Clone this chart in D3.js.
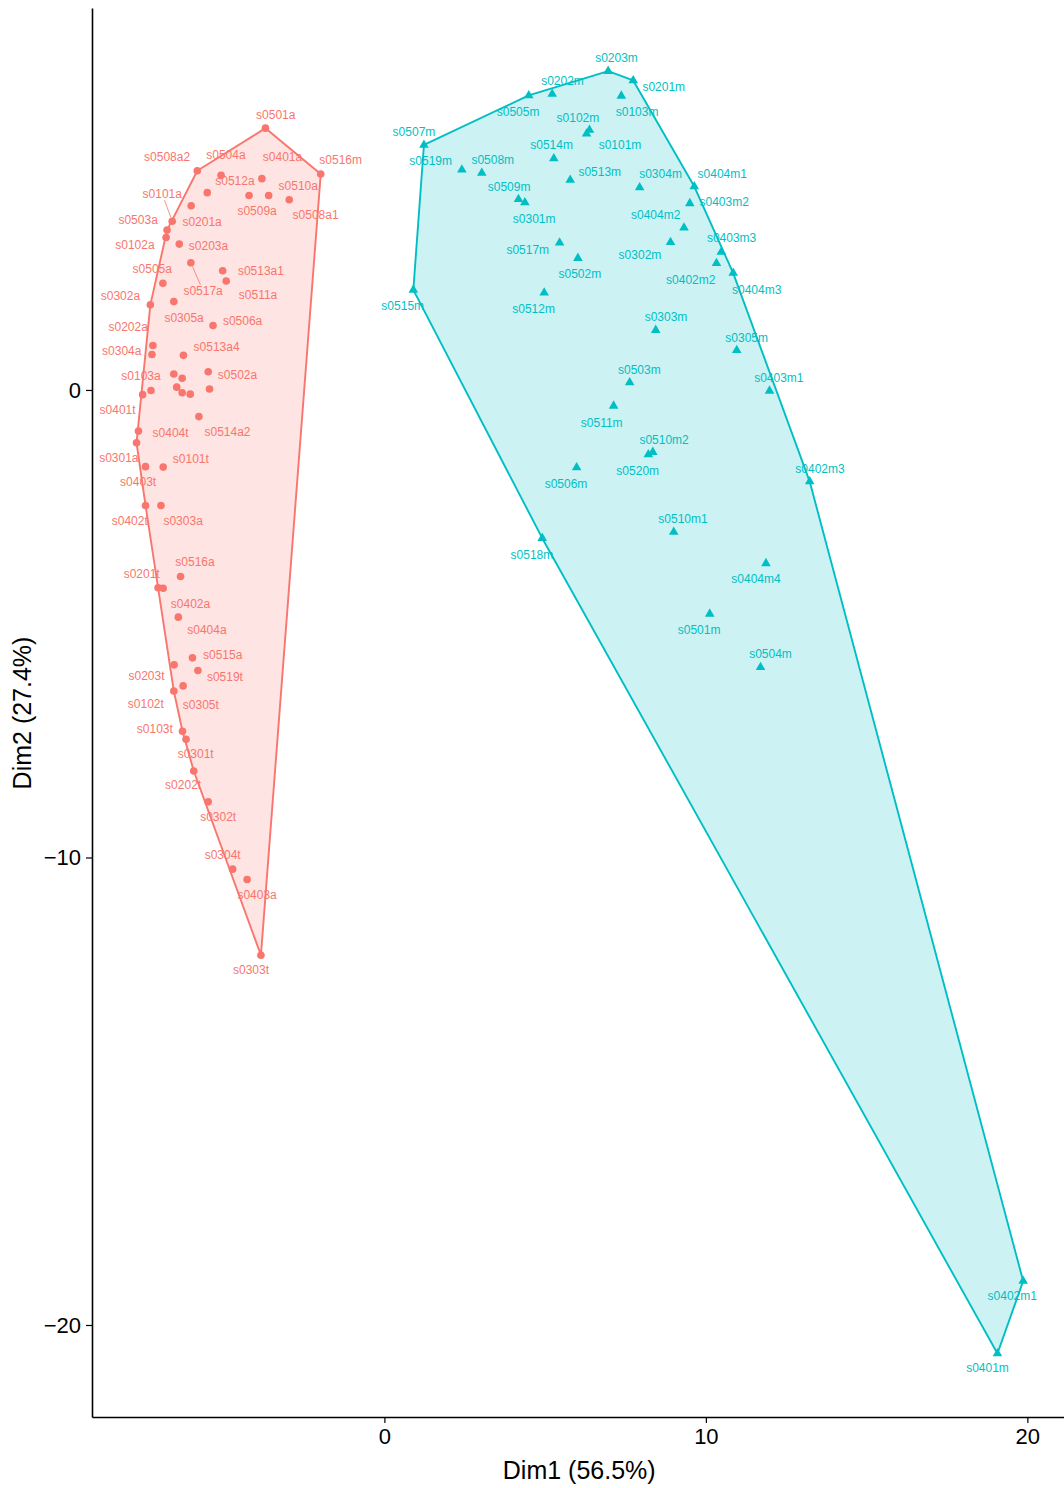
<!DOCTYPE html>
<html>
<head>
<meta charset="utf-8">
<script src="https://cdn.jsdelivr.net/npm/d3@7"></script>
<style>
  html, body { margin: 0; padding: 0; background: #ffffff; }
  svg { display: block; font-family: "Liberation Sans", Helvetica, Arial, sans-serif; }
</style>
</head>
<body>
<svg id="chart" width="1064" height="1488"></svg>
<script>
// ---------------- DATA ----------------
// Each row: [sample name (null = label dropped by repel), Dim1, Dim2, label Dim1, label Dim2]
const clusterNames = ["a", "m"];
const clusterColors = ["#F8766D", "#00BFC4"];

const cluster1 = [
  ["s0501a", -3.70, 5.60, -3.38, 5.89],
  ["s0508a2", -5.82, 4.69, -6.76, 4.99],
  ["s0516m", -1.98, 4.62, -1.36, 4.91],
  ["s0504a", -5.08, 4.59, -4.93, 5.03],
  ["s0401a", -3.81, 4.52, -3.17, 4.98],
  ["s0512a", -5.51, 4.22, -4.65, 4.47],
  ["s0509a", -4.21, 4.16, -3.96, 3.83],
  ["s0510a", -3.60, 4.16, -2.68, 4.36],
  ["s0508a1", -2.96, 4.07, -2.14, 3.74],
  ["s0101a", -6.60, 3.61, -6.91, 4.19],
  ["s0503a", -6.76, 3.42, -7.66, 3.64],
  ["s0102a", -6.79, 3.26, -7.76, 3.10],
  ["s0201a", -6.01, 3.94, -5.67, 3.59],
  ["s0203a", -6.38, 3.12, -5.47, 3.07],
  ["s0517a", -6.02, 2.72, -5.64, 2.12],
  ["s0513a1", -5.03, 2.55, -3.84, 2.55],
  ["s0511a", -4.92, 2.33, -3.93, 2.03],
  ["s0505a", -6.89, 2.28, -7.22, 2.58],
  ["s0305a", -6.55, 1.89, -6.23, 1.54],
  ["s0302a", -7.28, 1.82, -8.21, 2.01],
  ["s0506a", -5.33, 1.38, -4.41, 1.48],
  ["s0202a", -7.20, 0.95, -7.97, 1.35],
  ["s0304a", -7.23, 0.76, -8.17, 0.83],
  ["s0513a4", -6.25, 0.74, -5.22, 0.92],
  [null, -6.55, 0.34, null, null],
  [null, -6.29, 0.25, null, null],
  ["s0502a", -5.48, 0.39, -4.57, 0.32],
  ["s0103a", -7.26, -0.01, -7.57, 0.30],
  ["s0401t", -7.52, -0.10, -8.30, -0.42],
  [null, -6.46, 0.06, null, null],
  [null, -6.29, -0.06, null, null],
  [null, -6.04, -0.09, null, null],
  [null, -5.44, 0.02, null, null],
  ["s0514a2", -5.77, -0.57, -4.88, -0.89],
  ["s0404t", -7.65, -0.88, -6.65, -0.92],
  ["s0301a", -7.71, -1.13, -8.26, -1.46],
  ["s0403t", -7.43, -1.64, -7.66, -1.96],
  ["s0101t", -6.88, -1.65, -6.02, -1.47],
  ["s0402t", -7.43, -2.47, -7.92, -2.81],
  ["s0303a", -6.95, -2.47, -6.26, -2.81],
  ["s0516a", -6.34, -3.99, -5.89, -3.69],
  ["s0201t", -7.04, -4.23, -7.55, -3.94],
  ["s0402a", -6.88, -4.24, -6.03, -4.58],
  ["s0404a", -6.41, -4.86, -5.52, -5.13],
  ["s0515a", -5.97, -5.73, -5.03, -5.66],
  ["s0203t", -6.54, -5.88, -7.40, -6.11],
  ["s0519t", -5.80, -6.00, -4.96, -6.15],
  ["s0305t", -6.26, -6.33, -5.71, -6.73],
  ["s0102t", -6.55, -6.44, -7.42, -6.71],
  ["s0103t", -6.28, -7.30, -7.14, -7.25],
  ["s0301t", -6.17, -7.47, -5.87, -7.79],
  ["s0202t", -5.93, -8.15, -6.26, -8.46],
  ["s0302t", -5.48, -8.81, -5.17, -9.13],
  ["s0304t", -4.72, -10.25, -5.03, -9.94],
  ["s0403a", -4.27, -10.47, -3.96, -10.81],
  ["s0303t", -3.84, -12.09, -4.15, -12.41]
];

const cluster2 = [
  ["s0203m", 6.96, 6.82, 7.22, 7.10],
  ["s0201m", 7.74, 6.62, 8.69, 6.47],
  ["s0505m", 4.49, 6.30, 4.16, 5.95],
  ["s0202m", 5.22, 6.33, 5.54, 6.61],
  ["s0103m", 7.37, 6.29, 7.86, 5.95],
  ["s0102m", 6.38, 5.56, 6.02, 5.82],
  ["s0101m", 6.29, 5.48, 7.33, 5.24],
  ["s0507m", 1.23, 5.24, 0.92, 5.51],
  ["s0514m", 5.27, 4.95, 5.20, 5.24],
  ["s0519m", 2.41, 4.71, 1.44, 4.90],
  ["s0508m", 3.03, 4.64, 3.37, 4.91],
  ["s0513m", 5.78, 4.49, 6.70, 4.66],
  ["s0304m", 7.94, 4.33, 8.59, 4.63],
  ["s0404m1", 9.64, 4.35, 10.51, 4.63],
  ["s0509m", 4.17, 4.08, 3.88, 4.34],
  ["s0301m", 4.37, 4.01, 4.66, 3.66],
  ["s0403m2", 9.50, 3.99, 10.57, 4.01],
  ["s0404m2", 9.32, 3.47, 8.44, 3.74],
  ["s0302m", 8.90, 3.16, 7.95, 2.89],
  ["s0403m3", 10.48, 2.95, 10.80, 3.26],
  ["s0402m2", 10.33, 2.71, 9.53, 2.35],
  ["s0404m3", 10.85, 2.50, 11.58, 2.14],
  ["s0517m", 5.45, 3.15, 4.46, 2.99],
  ["s0502m", 6.02, 2.82, 6.08, 2.48],
  ["s0515m", 0.90, 2.14, 0.57, 1.80],
  ["s0512m", 4.97, 2.08, 4.64, 1.73],
  ["s0303m", 8.44, 1.28, 8.76, 1.56],
  ["s0305m", 10.96, 0.85, 11.27, 1.11],
  ["s0503m", 7.63, 0.16, 7.93, 0.43],
  ["s0403m1", 11.98, -0.02, 12.27, 0.25],
  ["s0511m", 7.13, -0.34, 6.76, -0.70],
  ["s0510m2", 8.35, -1.33, 8.70, -1.07],
  ["s0520m", 8.21, -1.38, 7.88, -1.73],
  ["s0506m", 5.98, -1.66, 5.65, -2.01],
  ["s0402m3", 13.23, -1.96, 13.55, -1.69],
  ["s0510m1", 9.00, -3.04, 9.29, -2.77],
  ["s0518m", 4.91, -3.17, 4.59, -3.54],
  ["s0404m4", 11.87, -3.71, 11.56, -4.04],
  ["s0501m", 10.12, -4.79, 9.79, -5.13],
  ["s0504m", 11.70, -5.93, 12.01, -5.65],
  ["s0402m1", 19.87, -19.06, 19.53, -19.39],
  ["s0401m", 19.07, -20.61, 18.76, -20.93]
];

const xTicks = [0, 10, 20];
const yTicks = [0, -10, -20];
const xTitle = "Dim1 (56.5%)";
const yTitle = "Dim2 (27.4%)";

// ---------------- LAYOUT ----------------
const svg = d3.select("#chart");
const M = { left: 92, right: 1064, top: 8, bottom: 1417 };

const x = d3.scaleLinear().domain([-9.095, 21.14]).range([M.left, M.right]);
const y = d3.scaleLinear().domain([-21.968, 8.17]).range([M.bottom, M.top]);

const groups = [cluster1, cluster2];

// hulls
groups.forEach((g, i) => {
  const pts = g.map(d => [x(d[1]), y(d[2])]);
  const hull = d3.polygonHull(pts);
  svg.append("path")
    .attr("d", "M" + hull.map(p => p.join(",")).join("L") + "Z")
    .attr("fill", clusterColors[i])
    .attr("fill-opacity", 0.2)
    .attr("stroke", clusterColors[i])
    .attr("stroke-width", 1.9)
    .attr("stroke-linejoin", "round");
});

// label connectors (drawn when the label sits far from its point)
const labelFont = 12;
const measure = svg.append("text").attr("font-size", labelFont).attr("visibility", "hidden");
function textWidth(s) { measure.text(s); return measure.node().getComputedTextLength(); }

groups.forEach((g, i) => {
  g.filter(d => d[0] !== null).forEach(d => {
    const px = x(d[1]), py = y(d[2]);
    const lx = x(d[3]), ly = y(d[4]);
    const w = textWidth(d[0]) / 2 + 1, h = labelFont / 2;
    const nx = Math.max(lx - w, Math.min(px, lx + w));
    const ny = Math.max(ly - h, Math.min(py, ly + h));
    const dist = Math.hypot(px - nx, py - ny);
    if (dist > 18) {
      // segment from point toward label centre, clipped at the label box
      const dx = lx - px, dy = ly - py;
      const tx = dx !== 0 ? (Math.abs(dx) - w) / Math.abs(dx) : Infinity;
      const ty = dy !== 0 ? (Math.abs(dy) - h) / Math.abs(dy) : Infinity;
      let t = Math.max(Math.min(tx, 1), Math.min(ty, 1));
      if (!isFinite(t)) t = Math.min(tx, ty);
      const ex = px + dx * t, ey = py + dy * t;
      const len = Math.hypot(ex - px, ey - py);
      svg.append("line")
        .attr("x1", px + (ex - px) / len * 4).attr("y1", py + (ey - py) / len * 4)
        .attr("x2", ex).attr("y2", ey)
        .attr("stroke", clusterColors[i])
        .attr("stroke-width", 0.8);
    }
  });
});

// points
svg.append("g").selectAll("circle").data(cluster1).join("circle")
  .attr("cx", d => x(d[1])).attr("cy", d => y(d[2]))
  .attr("r", 3.8).attr("fill", clusterColors[0]);

svg.append("g").selectAll("path").data(cluster2).join("path")
  .attr("transform", d => `translate(${x(d[1])},${y(d[2])})`)
  .attr("d", d3.symbol(d3.symbolTriangle, 40))
  .attr("fill", clusterColors[1]);

// labels
groups.forEach((g, i) => {
  svg.append("g").selectAll("text").data(g.filter(d => d[0] !== null)).join("text")
    .attr("x", d => x(d[3])).attr("y", d => y(d[4]))
    .attr("text-anchor", "middle")
    .attr("dominant-baseline", "central")
    .attr("font-size", labelFont)
    .attr("fill", clusterColors[i])
    .text(d => d[0]);
});

// axes
const xAxis = svg.append("g").attr("transform", `translate(0,${M.bottom})`)
  .call(d3.axisBottom(x).tickValues(xTicks).tickSizeInner(6).tickSizeOuter(0).tickPadding(5));
const yAxis = svg.append("g").attr("transform", `translate(${M.left},0)`)
  .call(d3.axisLeft(y).tickValues(yTicks).tickSizeInner(6).tickSizeOuter(0).tickPadding(5));
[xAxis, yAxis].forEach(a => {
  a.select(".domain").attr("stroke", "#000").attr("stroke-width", 1.6);
  a.selectAll(".tick line").attr("stroke", "#000").attr("stroke-width", 1.2);
  a.selectAll(".tick text").attr("font-size", 22).attr("fill", "#000")
    .attr("font-family", "'Liberation Sans', Helvetica, Arial, sans-serif");
});

svg.append("text")
  .attr("x", x(6.06)).attr("y", 1479)
  .attr("text-anchor", "middle")
  .attr("font-size", 25).attr("fill", "#000")
  .text(xTitle);

svg.append("text")
  .attr("transform", `translate(31,713) rotate(-90)`)
  .attr("text-anchor", "middle")
  .attr("font-size", 25).attr("fill", "#000")
  .text(yTitle);
</script>
</body>
</html>
